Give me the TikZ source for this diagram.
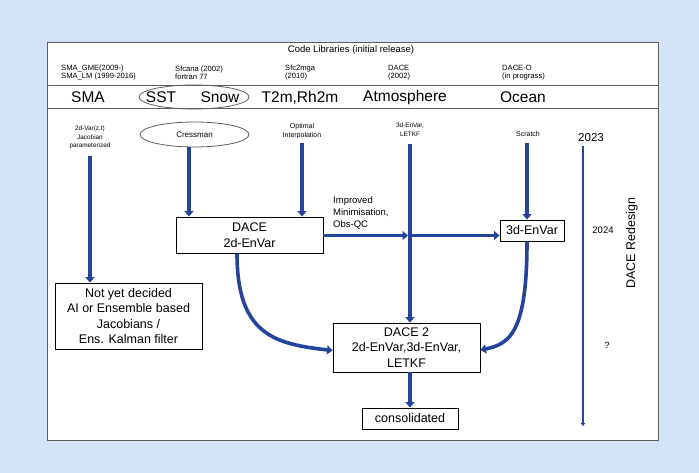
\documentclass[tikz,border=0pt]{standalone}
\usepackage{fontspec}
\setmainfont{Liberation Sans}
\usetikzlibrary{arrows.meta,shapes.geometric}
\definecolor{bgblue}{HTML}{D4E2F6}
\definecolor{arrblue}{HTML}{24439B}
\definecolor{framegray}{HTML}{5E5E5E}
\begin{document}
\begin{tikzpicture}[x=1pt,y=-1pt,
  small/.style={font=\fontsize{7.6}{7.6}\selectfont, inner sep=0pt, align=center},
  smallL/.style={small, align=left},
  mid/.style={font=\fontsize{7}{8.8}\selectfont, inner sep=0pt, align=center},
  midS/.style={font=\fontsize{6.4}{8.8}\selectfont, inner sep=0pt, align=center},
  big/.style={font=\fontsize{15.5}{17}\selectfont, inner sep=0pt},
  boxtxt/.style={font=\fontsize{12.5}{15.5}\selectfont, draw=black, line width=0.9pt, fill=white, align=center, inner sep=0pt},
  ell/.style={ellipse, draw=framegray, line width=0.8pt, inner sep=0pt},
  arr/.style={draw=arrblue, line width=3.6pt, -{Triangle[length=5.5pt,width=9pt]}},
]
\useasboundingbox (0,0) rectangle (699,473);
\fill[bgblue] (0,0) rectangle (699,473);
\draw[framegray, line width=1pt, fill=white] (47,43) rectangle (658,440);
\draw[framegray, line width=1pt] (47,85.5) -- (658,85.5);
\draw[framegray, line width=1pt] (47,109) -- (658,109);

% header
\node[font=\fontsize{9.5}{11}\selectfont, inner sep=0pt] (codelib) at (351,50) {Code Libraries (initial release)};
\node[smallL, anchor=west] (lib1) at (61,72.5) {SMA\_GME(2009-)\\SMA\_LM (1999-2016)};
\node[smallL, anchor=west] (lib2) at (175,72.5) {Sfcana (2002)\\fortran 77};
\node[smallL, anchor=west] (lib3) at (285,72.5) {Sfc2mga\\(2010)};
\node[smallL, anchor=west] (lib4) at (388,72.5) {DACE\\(2002)};
\node[smallL, anchor=west] (lib5) at (502,72.5) {DACE-O\\(in prograss)};

% row of components
\node[ell, minimum width=110pt, minimum height=24pt] (sstell) at (194,97) {};
\node[big] (sma) at (88,97.5) {SMA};
\node[big] (sst) at (161,97.5) {SST};
\node[big] (snow) at (220,97.5) {Snow};
\node[big] (t2m) at (300,97.5) {T2m,Rh2m};
\node[big] (atm) at (405,97.5) {Atmosphere};
\node[big] (ocean) at (523,97.5) {Ocean};

% methods
\node[midS] (sma2d) at (90,137.5) {2d-Var(z,t)\\Jacobian\\parameterized};
\node[ell, minimum width=109pt, minimum height=25pt, font=\fontsize{8}{9}\selectfont] (cress) at (194.5,134.5) {Cressman};
\node[mid] (optint) at (302,131.5) {Optimal\\Interpolation};
\node[midS] (letkf) at (410,130) {3d-EnVar,\\LETKF};
\node[mid] (scratch) at (528,134) {Scratch};
\node[font=\fontsize{11.5}{13}\selectfont, inner sep=0pt] (y2023) at (591,138) {2023};
\node[font=\fontsize{9.5}{11}\selectfont, inner sep=0pt] (y2024) at (603,230) {2024};
\node[font=\fontsize{9}{11}\selectfont, inner sep=0pt] (yq) at (607,345) {?};
\node[font=\fontsize{12.5}{14}\selectfont, inner sep=0pt, rotate=90] (redesign) at (632,243) {DACE Redesign};

% boxes
\node[boxtxt, minimum width=147pt, minimum height=36pt] (dace) at (249.5,235) {DACE\\2d-EnVar};
\node[boxtxt, minimum width=64pt, minimum height=21pt] (env3) at (532,230.5) {3d-EnVar};
\node[boxtxt, minimum width=147pt, minimum height=66pt] (notyet) at (128.5,316) {Not yet decided\\AI or Ensemble based\\Jacobians /\\Ens. Kalman filter};
\node[boxtxt, minimum width=147pt, minimum height=49pt] (dace2) at (406.5,347.5) {DACE 2\\2d-EnVar,3d-EnVar,\\LETKF};
\node[boxtxt, minimum width=96pt, minimum height=21pt] (cons) at (410,418.5) {consolidated};

\node[font=\fontsize{9.5}{12.4}\selectfont, inner sep=0pt, align=left, anchor=north west] (impr) at (333,196) {Improved\\Minimisation,\\Obs-QC};

% connectors
\draw[arr, shorten <=7pt] (sma2d.south) -- (sma2d.south |- notyet.north);
\draw[arr] ([xshift=-5.5pt]cress.south) -- ([xshift=-5.5pt]cress.south |- dace.north);
\draw[arr, shorten <=4pt] (optint.south) -- (optint.south |- dace.north);
\draw[arr, shorten <=7pt] (letkf.south) -- (letkf.south |- dace2.north);
\draw[arr, shorten <=6pt] ([xshift=-1pt]scratch.south) -- ([xshift=-1pt]scratch.south |- env3.north);
\coordinate (cross) at (408,235.5);
\draw[arr] (dace.east |- cross) -- (cross);
\draw[arr] (cross) -- (env3.west |- cross);
\draw[arr] ([xshift=-12.5pt]dace.south) .. controls (237,335) and (275,344) .. ([yshift=-3pt]dace2.west);
\draw[arr] ([xshift=-5pt]env3.south) .. controls (527,332) and (510,344) .. ([yshift=-2.5pt]dace2.east);
\draw[arr] (dace2.south -| letkf.south) -- (cons.north);
\coordinate (tltop) at (583,146);
\coordinate (tlbot) at (583,426);
\draw[arrblue, line width=2pt, -{Triangle[length=3pt,width=4.5pt]}] (tltop) -- (tlbot);
\end{tikzpicture}
\end{document}
